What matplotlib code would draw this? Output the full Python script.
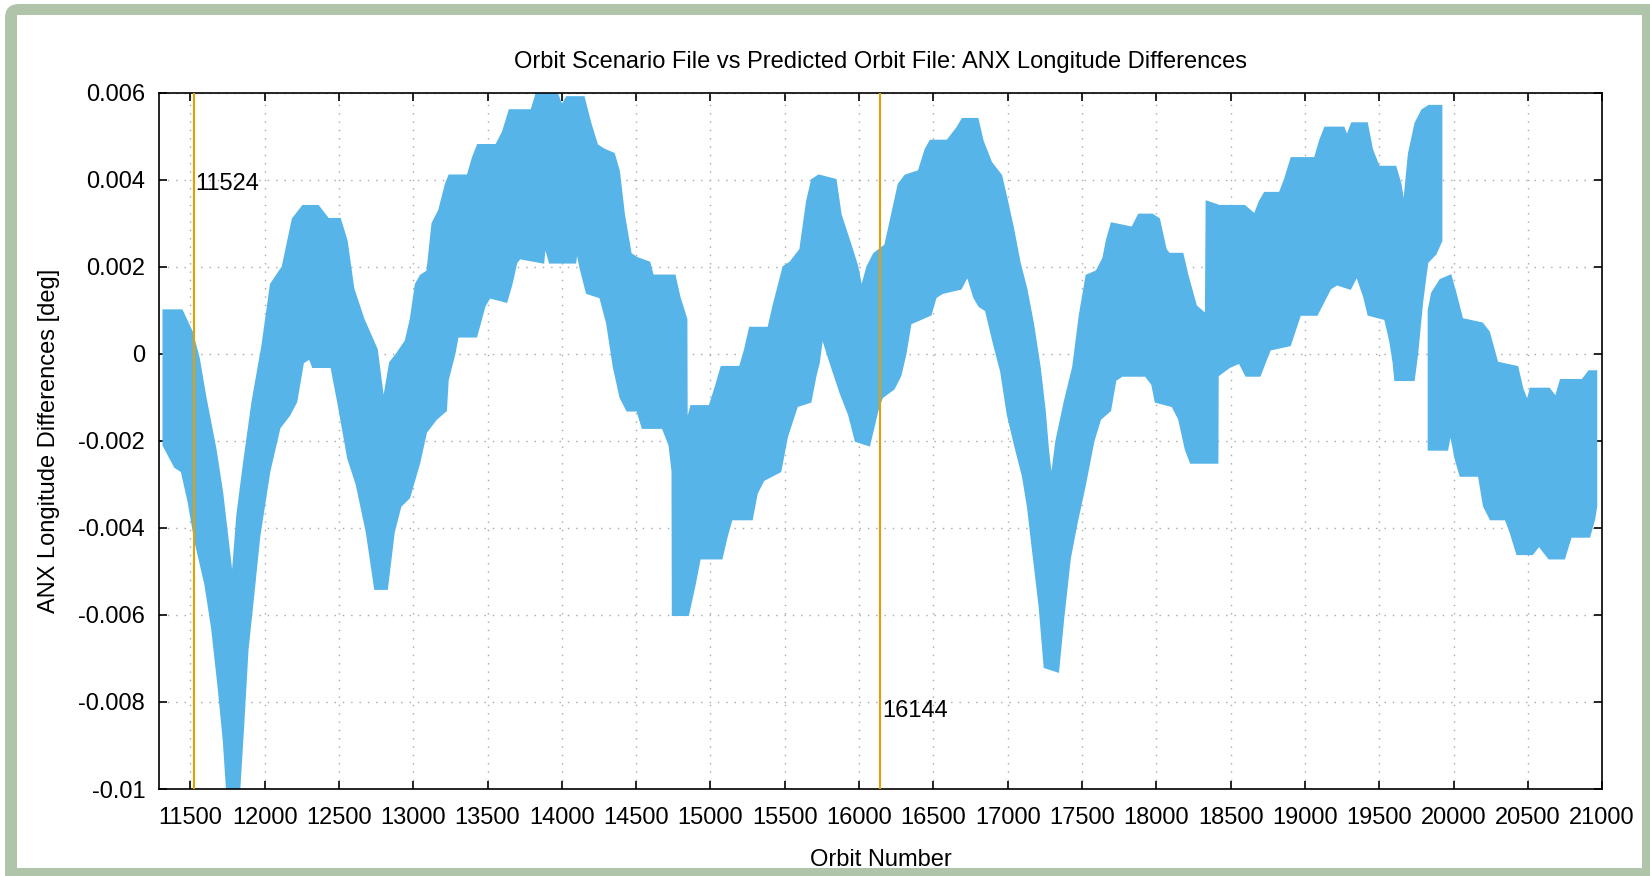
import numpy as np
import matplotlib.pyplot as plt
from matplotlib.patches import FancyBboxPatch, Rectangle

# envelope of the ANX longitude difference band
orbit_up = [11320, 11443, 11511, 11557, 11602, 11670, 11715, 11749, 11783, 11817,
            11862, 11919, 11986, 12043, 12122, 12190, 12258, 12360, 12428, 12507,
            12552, 12597, 12665, 12755, 12800, 12845, 12891, 12950, 12984, 13018,
            13051, 13096, 13130, 13175, 13220, 13243, 13367, 13401, 13435, 13559,
            13604, 13649, 13796, 13841, 13954, 14000, 14034, 14147, 14192, 14237,
            14282, 14350, 14384, 14418, 14463, 14508, 14589, 14612, 14759, 14792,
            14838, 14840, 14871, 14995, 15041, 15075, 15199, 15233, 15266, 15391,
            15424, 15492, 15537, 15605, 15650, 15684, 15729, 15842, 15876, 15943,
            15989, 16016, 16056, 16101, 16177, 16222, 16267, 16312, 16402, 16448,
            16481, 16594, 16662, 16696, 16797, 16831, 16888, 16956, 16990, 17035,
            17080, 17125, 17170, 17215, 17249, 17271, 17294, 17328, 17384, 17441,
            17486, 17531, 17599, 17644, 17667, 17700, 17838, 17883, 17973, 18018,
            18063, 18086, 18176, 18210, 18267, 18334, 18339, 18425, 18594, 18662,
            18696, 18730, 18831, 18865, 18910, 19068, 19102, 19136, 19260, 19283,
            19317, 19417, 19451, 19497, 19609, 19643, 19666, 19700, 19744, 19789,
            19834, 19918]
anx_up = [0.0010, 0.0010, 0.0005, -0.0001, -0.0010, -0.0022, -0.0032, -0.0042, -0.0052, -0.0037,
          -0.0025, -0.0011, 0.0002, 0.0016, 0.0020, 0.0031, 0.0034, 0.0034, 0.0031, 0.0031,
          0.0026, 0.0015, 0.0008, 0.0001, -0.0011, -0.0002, 0.0000, 0.0003, 0.0008, 0.0016,
          0.0018, 0.0019, 0.0030, 0.0033, 0.0039, 0.0041, 0.0041, 0.0045, 0.0048, 0.0048,
          0.0051, 0.0056, 0.0056, 0.0061, 0.0061, 0.0057, 0.0059, 0.0059, 0.0053, 0.0048,
          0.0047, 0.0046, 0.0042, 0.0032, 0.0023, 0.0022, 0.0021, 0.0018, 0.0018, 0.0013,
          0.0008, -0.0016, -0.0012, -0.0012, -0.0007, -0.0003, -0.0003, 0.0001, 0.0006, 0.0006,
          0.0011, 0.0020, 0.0021, 0.0024, 0.0035, 0.0040, 0.0041, 0.0040, 0.0032, 0.0025,
          0.0020, 0.0015, 0.0020, 0.0023, 0.0025, 0.0032, 0.0039, 0.0041, 0.0042, 0.0047,
          0.0049, 0.0049, 0.0052, 0.0054, 0.0054, 0.0049, 0.0044, 0.0041, 0.0036, 0.0029,
          0.0021, 0.0015, 0.0007, -0.0003, -0.0013, -0.0022, -0.0029, -0.0020, -0.0011, -0.0003,
          0.0009, 0.0018, 0.0019, 0.0022, 0.0026, 0.0030, 0.0029, 0.0032, 0.0032, 0.0031,
          0.0024, 0.0023, 0.0023, 0.0018, 0.0011, 0.0009, 0.0035, 0.0034, 0.0034, 0.0032,
          0.0035, 0.0037, 0.0037, 0.0040, 0.0045, 0.0045, 0.0049, 0.0052, 0.0052, 0.0050,
          0.0053, 0.0053, 0.0047, 0.0043, 0.0043, 0.0039, 0.0034, 0.0046, 0.0053, 0.0056,
          0.0057, 0.0057]

orbit_lo = [11320, 11398, 11443, 11489, 11534, 11602, 11647, 11692, 11726, 11749,
            11828, 11855, 11885, 11919, 11964, 12032, 12100, 12167, 12213, 12258,
            12303, 12326, 12450, 12495, 12563, 12620, 12688, 12744, 12823, 12869,
            12914, 12973, 13041, 13086, 13153, 13220, 13232, 13277, 13299, 13424,
            13480, 13514, 13627, 13661, 13694, 13717, 13875, 13886, 13920, 14090,
            14101, 14124, 14169, 14259, 14305, 14350, 14395, 14440, 14508, 14544,
            14679, 14725, 14745, 14747, 14849, 14894, 14928, 15075, 15109, 15142,
            15278, 15312, 15357, 15470, 15515, 15582, 15673, 15707, 15729, 15752,
            15808, 15876, 15933, 15978, 16068, 16124, 16154, 16233, 16278, 16312,
            16346, 16481, 16515, 16560, 16684, 16730, 16775, 16809, 16854, 16910,
            16956, 17001, 17057, 17102, 17136, 17170, 17215, 17249, 17339, 17373,
            17418, 17463, 17520, 17577, 17622, 17689, 17725, 17770, 17928, 17973,
            17996, 18109, 18154, 18199, 18233, 18411, 18413, 18492, 18560, 18605,
            18696, 18764, 18899, 18967, 19080, 19170, 19215, 19305, 19350, 19400,
            19428, 19540, 19574, 19597, 19608, 19732, 19755, 19789, 19823, 19879,
            19918]
anx_lo = [-0.0021, -0.0026, -0.0027, -0.0034, -0.0043, -0.0053, -0.0063, -0.0077, -0.0089, -0.0101,
          -0.0101, -0.0086, -0.0068, -0.0057, -0.0042, -0.0027, -0.0017, -0.0014, -0.0011, -0.0002,
          -0.0001, -0.0003, -0.0003, -0.0011, -0.0024, -0.0030, -0.0041, -0.0054, -0.0054, -0.0041,
          -0.0035, -0.0033, -0.0025, -0.0018, -0.0015, -0.0013, -0.0006, 0.0000, 0.0004, 0.0004,
          0.0011, 0.0013, 0.0012, 0.0016, 0.0021, 0.0022, 0.0021, 0.0025, 0.0021, 0.0021,
          0.0024, 0.0020, 0.0014, 0.0013, 0.0007, -0.0003, -0.0010, -0.0013, -0.0013, -0.0017,
          -0.0017, -0.0021, -0.0027, -0.0060, -0.0060, -0.0053, -0.0047, -0.0047, -0.0042, -0.0038,
          -0.0038, -0.0032, -0.0029, -0.0027, -0.0019, -0.0012, -0.0011, -0.0005, -0.0002, 0.0004,
          -0.0002, -0.0009, -0.0014, -0.0020, -0.0021, -0.0013, -0.0010, -0.0008, -0.0005, 0.0000,
          0.0007, 0.0009, 0.0013, 0.0014, 0.0015, 0.0018, 0.0013, 0.0011, 0.0010, 0.0002,
          -0.0004, -0.0014, -0.0022, -0.0028, -0.0035, -0.0045, -0.0058, -0.0072, -0.0073, -0.0061,
          -0.0047, -0.0039, -0.0030, -0.0020, -0.0015, -0.0013, -0.0006, -0.0005, -0.0005, -0.0007,
          -0.0011, -0.0012, -0.0015, -0.0022, -0.0025, -0.0025, -0.0005, -0.0003, -0.0002, -0.0005,
          -0.0005, 0.0001, 0.0002, 0.0009, 0.0009, 0.0015, 0.0016, 0.0015, 0.0018, 0.0013,
          0.0009, 0.0008, 0.0003, -0.0002, -0.0006, -0.0006, 0.0000, 0.0012, 0.0021, 0.0023,
          0.0026]

# last part after the jump near orbit 19900
tail_orbit_up = [19833, 19856, 19912, 19980, 20013, 20058, 20193, 20238, 20294, 20429,
                 20463, 20497, 20519, 20643, 20688, 20722, 20867, 20912, 20960]
tail_up = [0.0010, 0.0014, 0.0017, 0.0018, 0.0014, 0.0008, 0.0007, 0.0005, -0.0002, -0.0003,
           -0.0008, -0.0011, -0.0008, -0.0008, -0.0010, -0.0006, -0.0006, -0.0004, -0.0004]
tail_orbit_lo = [19833, 19957, 19980, 20013, 20047, 20171, 20205, 20250, 20351, 20384,
                 20429, 20530, 20575, 20643, 20744, 20789, 20913, 20946, 20960]
tail_lo = [-0.0022, -0.0022, -0.0018, -0.0024, -0.0028, -0.0028, -0.0035, -0.0038, -0.0038, -0.0041,
           -0.0046, -0.0046, -0.0044, -0.0047, -0.0047, -0.0042, -0.0042, -0.0038, -0.0035]

marker_orbits = [11524, 16144]
marker_label_y = [0.0039, -0.0082]

x_ticks = np.arange(11500, 21001, 500)
y_ticks = [0.006, 0.004, 0.002, 0, -0.002, -0.004, -0.006, -0.008, -0.01]
y_ticklabels = ['0.006', '0.004', '0.002', '0', '-0.002', '-0.004', '-0.006', '-0.008', '-0.01']

band_color = '#56b4e9'
mark_color = '#e69f00'
frame_color = '#afc4a9'
fs = 17

plt.rcParams['font.family'] = ['Liberation Sans', 'DejaVu Sans']

fig = plt.figure(figsize=(16.5, 8.76), dpi=100)
fig.patch.set_facecolor('white')

# green frame round the whole picture (pixel coordinates)
fig.patches.append(FancyBboxPatch((5, -20), 1680, 892, boxstyle='round,pad=0,rounding_size=14',
                                  transform=None, facecolor=frame_color, edgecolor='none', zorder=-10))
fig.patches.append(Rectangle((17, 8), 1625, 853, transform=None,
                             facecolor='white', edgecolor='none', zorder=-9))

ax = fig.add_axes([0.0964, 0.0993, 0.971 - 0.0964, 0.894 - 0.0993])
ax.set_facecolor('white')

ax.fill(np.concatenate([orbit_up, orbit_lo[::-1]]), np.concatenate([anx_up, anx_lo[::-1]]),
        color=band_color, edgecolor=band_color, linewidth=1.5, zorder=2)
ax.fill(np.concatenate([tail_orbit_up, tail_orbit_lo[::-1]]), np.concatenate([tail_up, tail_lo[::-1]]),
        color=band_color, edgecolor=band_color, linewidth=1.5, zorder=2)

for xo, yl in zip(marker_orbits, marker_label_y):
    ax.axvline(xo, color=mark_color, linewidth=1.5, zorder=3)
    ax.text(xo + 12, yl, str(xo), fontsize=fs, ha='left', va='center', zorder=4)

ax.set_xlim(11290, 21000)
ax.set_ylim(-0.01, 0.006)
ax.set_xticks(x_ticks)
ax.set_yticks(y_ticks)
ax.set_yticklabels(y_ticklabels)
ax.tick_params(direction='in', length=6, width=1.2, top=True, right=True,
               labelsize=fs)
ax.tick_params(axis='x', pad=13)
ax.tick_params(axis='y', pad=10)
for s in ax.spines.values():
    s.set_linewidth(1.2)
ax.grid(True, color='#a8a8a8', linestyle=(0, (1, 5)), linewidth=1.0, zorder=1)
ax.set_axisbelow(True)

ax.set_title('Orbit Scenario File vs Predicted Orbit File: ANX Longitude Differences',
             fontsize=fs, pad=18)
ax.set_xlabel('Orbit Number', fontsize=fs, labelpad=14)
ax.set_ylabel('ANX Longitude Differences [deg]', fontsize=fs, labelpad=13)

fig.savefig('out.png', dpi=100)
